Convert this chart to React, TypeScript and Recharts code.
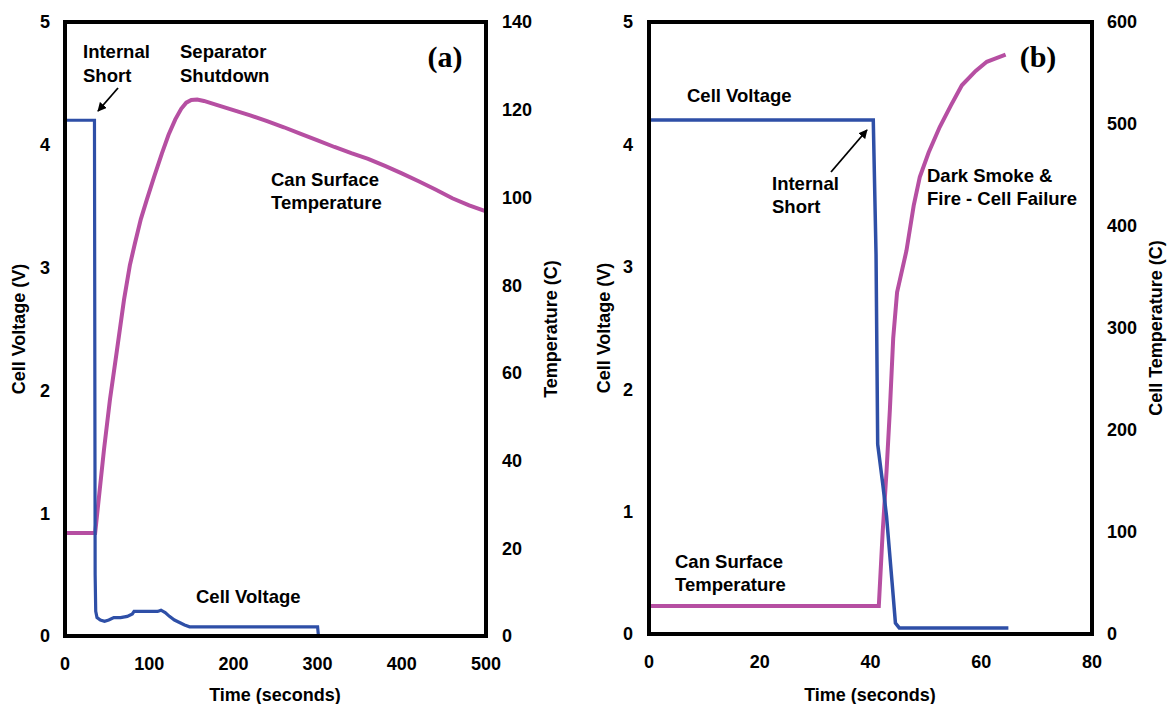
import React from 'react';
import { LineChart, Line, XAxis, YAxis, ReferenceLine } from 'recharts';

// ---------- Panel (a) ----------
const aVoltTime = [0, 35, 35.8, 36.5, 38, 42, 47, 52, 58, 66, 74, 80, 82, 100, 110, 114, 119, 124, 130, 136, 142, 148, 300, 301, 500];
const aVolt = [4.2, 4.2, 0.5, 0.2, 0.15, 0.13, 0.12, 0.13, 0.15, 0.15, 0.16, 0.18, 0.2, 0.2, 0.2, 0.21, 0.19, 0.16, 0.13, 0.11, 0.09, 0.075, 0.075, 0.0, 0.0];
const aTempTime = [0, 35.8, 46.3, 53.4, 61.8, 70.1, 77, 83, 90, 97, 106, 115, 123, 131, 138, 144, 150, 157, 165, 180, 200, 220, 240, 260, 280, 300, 320, 340, 360, 380, 400, 420, 440, 460, 480, 500];
const aTemp = [23.5, 23.5, 42.5, 53.9, 65.3, 76.7, 84.5, 89.5, 95, 99.4, 104.8, 110, 114.3, 117.8, 120.2, 121.6, 122.2, 122.3, 122, 121.1, 119.9, 118.7, 117.4, 116, 114.5, 113, 111.5, 110.1, 108.8, 107.2, 105.5, 103.7, 101.8, 99.8, 98.2, 96.8];
const aTimeTicks = [0, 100, 200, 300, 400, 500];
const aTempTicks = [0, 20, 40, 60, 80, 100, 120, 140];

// ---------- Panel (b) ----------
const bVoltTime = [0, 40.5, 41.0, 41.3, 42.2, 42.9, 43.9, 44.5, 45.2, 64.9];
const bVolt = [4.2, 4.2, 3.1, 1.55, 1.23, 0.96, 0.42, 0.09, 0.05, 0.05];
const bTempTime = [0, 41.5, 42.2, 42.9, 43.5, 44.1, 44.8, 46.5, 47.8, 48.9, 50.5, 52.5, 54.5, 56.5, 59, 61, 62.5, 64.4];
const bTemp = [27.5, 27.5, 100, 160, 220, 290, 335, 376, 420, 448, 472, 497, 518, 538, 552, 561, 564, 568];
const bTimeTicks = [0, 20, 40, 60, 80];
const bTempTicks = [0, 100, 200, 300, 400, 500, 600];

const voltTicks = [0, 1, 2, 3, 4, 5];

const zip = (ts: number[], vs: number[]) => ts.map((t, i) => ({ t, v: vs[i] }));
const aVoltData = zip(aVoltTime, aVolt);
const aTempData = zip(aTempTime, aTemp);
const bVoltData = zip(bVoltTime, bVolt);
const bTempData = zip(bTempTime, bTemp);

const BLUE = '#2E4FA7';
const MAGENTA = '#B64FA2';
const FONT = '"Liberation Sans", Arial, Helvetica, sans-serif';

const tickStyle = { fill: '#000', fontSize: 18, fontWeight: 700, fontFamily: FONT };
const axisLine = { stroke: '#000', strokeWidth: 4, strokeLinecap: 'square' as const };

const annot = { fontFamily: FONT, fontWeight: 700, fontSize: 18.5, fill: '#000' } as React.CSSProperties;
const title = { fontFamily: FONT, fontWeight: 700, fontSize: 18, fill: '#000' } as React.CSSProperties;
const panelTag = { fontFamily: '"Liberation Serif", "Times New Roman", serif', fontWeight: 700, fontSize: 30, fill: '#000' } as React.CSSProperties;

export default function App() {
  return (
    <div style={{ position: 'absolute', left: 0, top: 0, width: 1167, height: 704, background: '#fff', overflow: 'hidden' }}>
      <div style={{ position: 'absolute', left: 0, top: 0 }}>
        <LineChart width={590} height={704} margin={{ top: 22, right: 0, bottom: 0, left: 0 }}>
          <XAxis xAxisId="x" type="number" dataKey="t" domain={[0, 500]} ticks={aTimeTicks} height={68}
            axisLine={axisLine} tickLine={false} tickSize={0} tickMargin={21} tick={tickStyle} allowDataOverflow />
          <YAxis yAxisId="v" orientation="left" type="number" domain={[0, 5]} ticks={voltTicks} width={65}
            axisLine={axisLine} tickLine={false} tickSize={0} tickMargin={15} tick={tickStyle} allowDataOverflow />
          <YAxis yAxisId="T" orientation="right" type="number" domain={[0, 140]} ticks={aTempTicks} width={104}
            axisLine={axisLine} tickLine={false} tickSize={0} tickMargin={16} tick={tickStyle} allowDataOverflow />
          <ReferenceLine xAxisId="x" yAxisId="v" y={5} stroke="#000" strokeWidth={4} />
          <Line xAxisId="x" yAxisId="T" data={aTempData} dataKey="v" type="linear" stroke={MAGENTA} strokeWidth={4}
            dot={false} activeDot={false} isAnimationActive={false} />
          <Line xAxisId="x" yAxisId="v" data={aVoltData} dataKey="v" type="linear" stroke={BLUE} strokeWidth={3.2}
            dot={false} activeDot={false} isAnimationActive={false} />
        </LineChart>
      </div>
      <div style={{ position: 'absolute', left: 583, top: 0 }}>
        <LineChart width={584} height={704} margin={{ top: 22, right: 0, bottom: 0, left: 0 }}>
          <XAxis xAxisId="x" type="number" dataKey="t" domain={[0, 80]} ticks={bTimeTicks} height={70}
            axisLine={axisLine} tickLine={false} tickSize={0} tickMargin={21} tick={tickStyle} allowDataOverflow />
          <YAxis yAxisId="v" orientation="left" type="number" domain={[0, 5]} ticks={voltTicks} width={66}
            axisLine={axisLine} tickLine={false} tickSize={0} tickMargin={16} tick={tickStyle} allowDataOverflow />
          <YAxis yAxisId="T" orientation="right" type="number" domain={[0, 600]} ticks={bTempTicks} width={75}
            axisLine={axisLine} tickLine={false} tickSize={0} tickMargin={15} tick={tickStyle} allowDataOverflow />
          <ReferenceLine xAxisId="x" yAxisId="v" y={5} stroke="#000" strokeWidth={4} />
          <Line xAxisId="x" yAxisId="T" data={bTempData} dataKey="v" type="linear" stroke={MAGENTA} strokeWidth={4}
            dot={false} activeDot={false} isAnimationActive={false} />
          <Line xAxisId="x" yAxisId="v" data={bVoltData} dataKey="v" type="linear" stroke={BLUE} strokeWidth={3.5}
            dot={false} activeDot={false} isAnimationActive={false} />
        </LineChart>
      </div>
      <svg width={1167} height={704} style={{ position: 'absolute', left: 0, top: 0, pointerEvents: 'none' }}>
        <defs>
          <marker id="arrowHead" viewBox="0 0 10 10" refX="9" refY="5" markerWidth="5" markerHeight="5" orient="auto">
            <path d="M0,0 L10,5 L0,10 z" fill="#000" />
          </marker>
        </defs>
        {/* Axis titles */}
        <text transform="translate(25,329) rotate(-90)" textAnchor="middle" style={title}>Cell Voltage (V)</text>
        <text transform="translate(557,329) rotate(-90)" textAnchor="middle" style={title}>Temperature (C)</text>
        <text x={275} y={701} textAnchor="middle" style={title}>Time (seconds)</text>
        <text transform="translate(610,328) rotate(-90)" textAnchor="middle" style={title}>Cell Voltage (V)</text>
        <text transform="translate(1162,328) rotate(-90)" textAnchor="middle" style={title}>Cell Temperature (C)</text>
        <text x={870} y={701} textAnchor="middle" style={title}>Time (seconds)</text>

        {/* Panel (a) annotations */}
        <text x={445} y={67} textAnchor="middle" style={panelTag}>(a)</text>
        <text x={83} y={58} style={annot}>Internal</text>
        <text x={83} y={82} style={annot}>Short</text>
        <line x1={118} y1={88} x2={98} y2={111} stroke="#000" strokeWidth={1.8} markerEnd="url(#arrowHead)" />
        <text x={180} y={58} style={annot}>Separator</text>
        <text x={180} y={82} style={annot}>Shutdown</text>
        <text x={271} y={186} style={annot}>Can Surface</text>
        <text x={271} y={209} style={annot}>Temperature</text>
        <text x={196} y={603} style={annot}>Cell Voltage</text>

        {/* Panel (b) annotations */}
        <text x={1038} y={67} textAnchor="middle" style={panelTag}>(b)</text>
        <text x={687} y={102} style={annot}>Cell Voltage</text>
        <text x={772} y={190} style={annot}>Internal</text>
        <text x={772} y={213} style={annot}>Short</text>
        <line x1={831} y1={172} x2={867} y2={130} stroke="#000" strokeWidth={1.8} markerEnd="url(#arrowHead)" />
        <text x={927} y={182} style={annot}>Dark Smoke &amp;</text>
        <text x={927} y={205} style={annot}>Fire - Cell Failure</text>
        <text x={675} y={568} style={annot}>Can Surface</text>
        <text x={675} y={591} style={annot}>Temperature</text>
      </svg>
    </div>
  );
}
